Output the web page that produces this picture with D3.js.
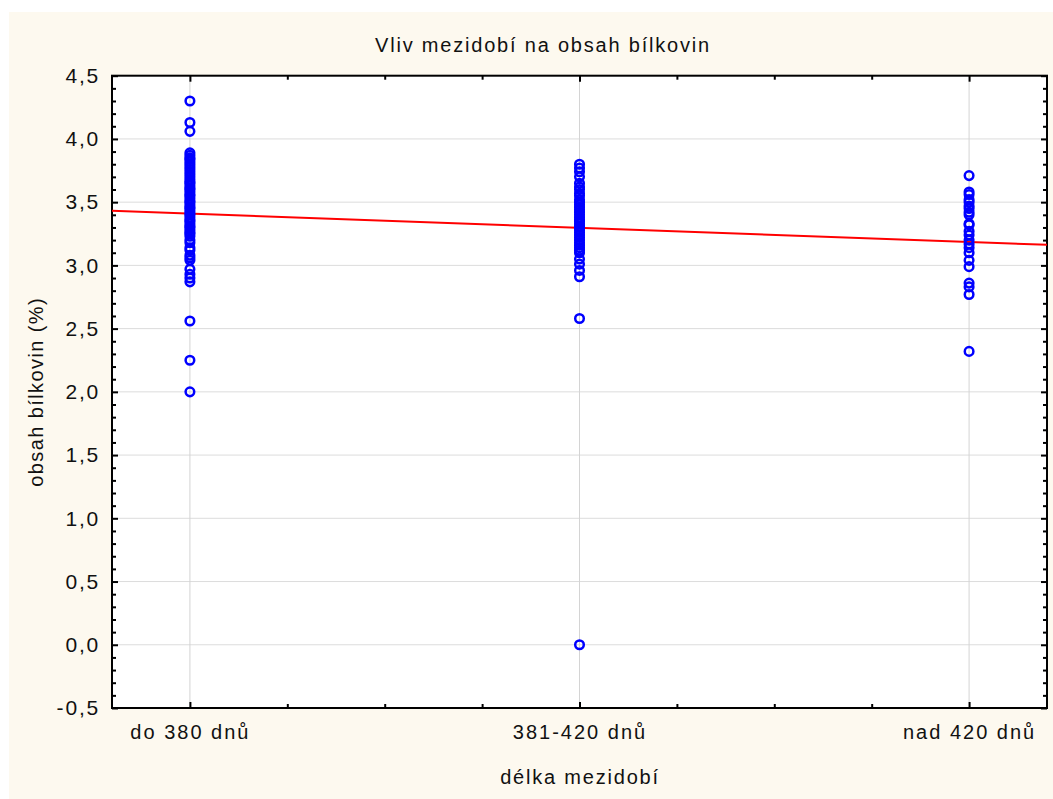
<!DOCTYPE html>
<html>
<head>
<meta charset="utf-8">
<script src="https://cdn.jsdelivr.net/npm/d3@7"></script>
<style>
html,body{margin:0;padding:0;background:#fff;}
svg text{font-family:"Liberation Sans",Arial,sans-serif;fill:#111;}
</style>
</head>
<body>
<svg id="chart" width="1053" height="799"></svg>
<script>
const categories = ["do 380 dnů", "381-420 dnů", "nad 420 dnů"];
const seriesA = [4.30, 4.13, 4.06, 3.89, 3.87, 3.85, 3.84, 3.82, 3.80, 3.78, 3.76, 3.74, 3.72, 3.70, 3.68, 3.66, 3.65, 3.63, 3.61, 3.60, 3.58, 3.56, 3.55, 3.53, 3.51, 3.50, 3.48, 3.46, 3.45, 3.43, 3.41, 3.40, 3.38, 3.36, 3.35, 3.33, 3.31, 3.30, 3.28, 3.26, 3.25, 3.23, 3.20, 3.18, 3.14, 3.12, 3.08, 3.06, 3.04, 2.97, 2.93, 2.90, 2.87, 2.56, 2.25, 2.00];
const seriesB = [3.80, 3.77, 3.74, 3.70, 3.65, 3.62, 3.60, 3.57, 3.55, 3.52, 3.50, 3.48, 3.46, 3.44, 3.42, 3.40, 3.38, 3.36, 3.35, 3.33, 3.31, 3.30, 3.28, 3.26, 3.24, 3.22, 3.20, 3.18, 3.16, 3.14, 3.12, 3.10, 3.05, 3.01, 2.96, 2.91, 2.58, 0.00];
const seriesC = [3.71, 3.58, 3.56, 3.52, 3.50, 3.47, 3.45, 3.42, 3.40, 3.33, 3.32, 3.27, 3.24, 3.20, 3.17, 3.14, 3.10, 3.04, 2.99, 2.86, 2.83, 2.77, 2.32];
const yTickValues = [-0.5, 0.0, 0.5, 1.0, 1.5, 2.0, 2.5, 3.0, 3.5, 4.0, 4.5];
const regression = {intercept: 3.5225, slope: -0.1125};
const titleText = "Vliv mezidobí na obsah bílkovin";
const xLabel = "délka mezidobí";
const yLabel = "obsah bílkovin (%)";

const svg = d3.select("#chart");
const W = 1053, H = 799;
const L = 112, R = 1047, T = 75.7, B = 708;

svg.append("rect").attr("x", 9).attr("y", 12).attr("width", W - 9).attr("height", H - 12).attr("fill", "#fdf9ef");
svg.append("rect").attr("x", L).attr("y", T).attr("width", R - L).attr("height", B - T).attr("fill", "#fff");

const x = d3.scaleLinear().domain([0.8, 3.2]).range([L, R]);
const y = d3.scaleLinear().domain([-0.5, 4.5]).range([B, T]);

const fmt = v => d3.format(".1f")(v).replace(".", ",").replace("−", "-");

// grid
const grid = svg.append("g");
grid.selectAll("line.h").data(yTickValues.filter(v => v > -0.5 && v < 4.5)).enter().append("line")
  .attr("x1", L).attr("x2", R).attr("y1", d => y(d)).attr("y2", d => y(d))
  .attr("stroke", "#dcdcdc").attr("stroke-width", 1);
grid.selectAll("line.v").data([1, 2, 3]).enter().append("line")
  .attr("y1", T).attr("y2", B).attr("x1", d => x(d)).attr("x2", d => x(d))
  .attr("stroke", "#d4d4d4").attr("stroke-width", 1);

const xMajor = [1, 2, 3];
const xMinorVals = [1.25, 1.5, 1.75, 2.25, 2.5, 2.75];
const yMinorVals = d3.range(-0.4, 4.45, 0.1).map(v => +v.toFixed(1)).filter(v => !yTickValues.some(t => Math.abs(t - v) < 1e-6));

function styleAxis(g) {
  g.select(".domain").remove();
  g.selectAll(".tick line").attr("stroke", "#000").attr("stroke-width", 2);
}

// bottom
svg.append("g").attr("transform", `translate(0,${B})`)
  .call(d3.axisBottom(x).tickValues(xMajor).tickSize(-6).tickFormat((d, i) => categories[i]))
  .call(styleAxis)
  .call(g => g.selectAll(".tick text").attr("y", 25).attr("dy", "0.32em").attr("font-size", 20).attr("letter-spacing", "2px").attr("font-family", "Liberation Sans, Arial, sans-serif").attr("fill", "#111"));
svg.append("g").attr("transform", `translate(0,${B})`)
  .call(d3.axisBottom(x).tickValues(xMinorVals).tickSize(-4).tickFormat(""))
  .call(styleAxis);
// top
svg.append("g").attr("transform", `translate(0,${T})`)
  .call(d3.axisTop(x).tickValues(xMajor).tickSize(-6).tickFormat(""))
  .call(styleAxis);
svg.append("g").attr("transform", `translate(0,${T})`)
  .call(d3.axisTop(x).tickValues(xMinorVals).tickSize(-4).tickFormat(""))
  .call(styleAxis);
// left
svg.append("g").attr("transform", `translate(${L},0)`)
  .call(d3.axisLeft(y).tickValues(yTickValues).tickSize(-6).tickFormat(fmt))
  .call(styleAxis)
  .call(g => g.selectAll(".tick text").attr("x", -12).attr("font-size", 21).attr("letter-spacing", "1.8px").attr("font-family", "Liberation Sans, Arial, sans-serif").attr("fill", "#111"));
svg.append("g").attr("transform", `translate(${L},0)`)
  .call(d3.axisLeft(y).tickValues(yMinorVals).tickSize(-4).tickFormat(""))
  .call(styleAxis);
// right
svg.append("g").attr("transform", `translate(${R},0)`)
  .call(d3.axisRight(y).tickValues(yTickValues).tickSize(-6).tickFormat(""))
  .call(styleAxis);
svg.append("g").attr("transform", `translate(${R},0)`)
  .call(d3.axisRight(y).tickValues(yMinorVals).tickSize(-4).tickFormat(""))
  .call(styleAxis);

// frame
svg.append("rect").attr("x", L).attr("y", T).attr("width", R - L).attr("height", B - T)
  .attr("fill", "none").attr("stroke", "#000").attr("stroke-width", 2);

// regression line
const plot = svg.append("g");
plot.append("line")
  .attr("x1", x(0.8)).attr("y1", y(regression.intercept + regression.slope * 0.8))
  .attr("x2", x(3.2)).attr("y2", y(regression.intercept + regression.slope * 3.2))
  .attr("stroke", "#ff0000").attr("stroke-width", 2);

// points
const pts = [];
[seriesA, seriesB, seriesC].forEach((s, i) => s.forEach(v => pts.push({c: i + 1, v})));
plot.selectAll("circle").data(pts).enter().append("circle")
  .attr("cx", d => x(d.c)).attr("cy", d => y(d.v)).attr("r", 4.3)
  .attr("fill", "none").attr("stroke", "#0000ff").attr("stroke-width", 2.5);

// titles
svg.append("text").attr("x", 543).attr("y", 45).attr("text-anchor", "middle").attr("dy", "0.35em")
  .attr("font-size", 20).attr("letter-spacing", "1.8px").text(titleText);
svg.append("text").attr("x", 580).attr("y", 777).attr("text-anchor", "middle").attr("dy", "0.35em")
  .attr("font-size", 20).attr("letter-spacing", "1.8px").text(xLabel);
svg.append("text").attr("transform", `translate(36,${(T + B) / 2}) rotate(-90)`).attr("text-anchor", "middle").attr("dy", "0.35em")
  .attr("font-size", 20).attr("letter-spacing", "1.4px").text(yLabel);
</script>
</body>
</html>
